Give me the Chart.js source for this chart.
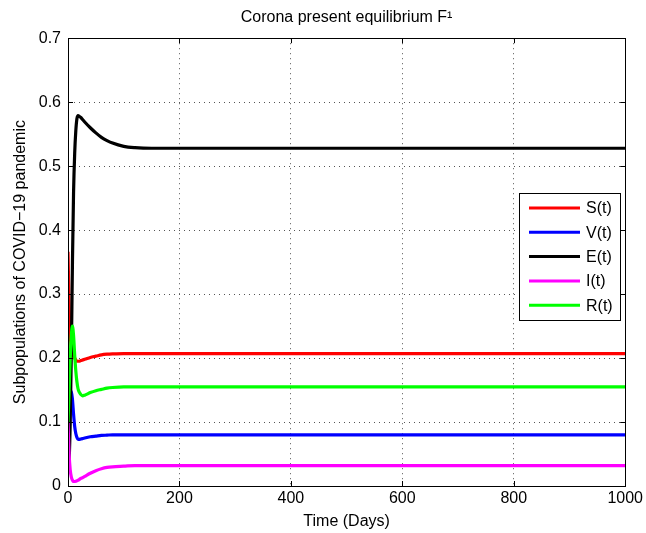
<!DOCTYPE html>
<html>
<head>
<meta charset="utf-8">
<script src="https://cdn.jsdelivr.net/npm/chart.js@4.4.1/dist/chart.umd.min.js"></script>
<style>
  html, body { margin: 0; padding: 0; background: #fff; }
  #wrap { width: 646px; height: 533px; }
</style>
</head>
<body>
<div id="wrap"><canvas id="eqChart" width="646" height="533"></canvas></div>
<script>
// time points (days)
const days = [0, 2, 4, 6, 8, 10, 12, 14, 16, 18, 20, 23, 26, 30, 40, 50, 60, 70, 80, 100, 120, 150, 200, 300, 400, 500, 600, 700, 800, 900, 1000];

const sVals = [0.366, 0.28, 0.235, 0.219, 0.21, 0.204, 0.2, 0.197, 0.195, 0.195, 0.195, 0.196, 0.197, 0.198, 0.201, 0.203, 0.205, 0.206, 0.2065, 0.207, 0.207, 0.207, 0.207, 0.207, 0.207, 0.207, 0.207, 0.207, 0.207, 0.207, 0.207];
const vVals = [0.1, 0.125, 0.142, 0.148, 0.135, 0.112, 0.093, 0.082, 0.076, 0.073, 0.073, 0.0735, 0.074, 0.075, 0.077, 0.078, 0.079, 0.0795, 0.08, 0.08, 0.08, 0.08, 0.08, 0.08, 0.08, 0.08, 0.08, 0.08, 0.08, 0.08, 0.08];
const eVals = [0.02, 0.04, 0.1, 0.21, 0.35, 0.46, 0.52, 0.555, 0.574, 0.579, 0.578, 0.576, 0.573, 0.569, 0.56, 0.552, 0.545, 0.54, 0.536, 0.531, 0.529, 0.528, 0.528, 0.528, 0.528, 0.528, 0.528, 0.528, 0.528, 0.528, 0.528];
const iVals = [0.1, 0.05, 0.025, 0.014, 0.009, 0.007, 0.007, 0.0075, 0.008, 0.009, 0.01, 0.012, 0.013, 0.015, 0.02, 0.024, 0.027, 0.029, 0.03, 0.031, 0.032, 0.032, 0.032, 0.032, 0.032, 0.032, 0.032, 0.032, 0.032, 0.032, 0.032];
const rVals = [0.1, 0.15, 0.2, 0.235, 0.25, 0.235, 0.205, 0.18, 0.163, 0.152, 0.147, 0.143, 0.141, 0.142, 0.146, 0.149, 0.151, 0.153, 0.154, 0.155, 0.155, 0.155, 0.155, 0.155, 0.155, 0.155, 0.155, 0.155, 0.155, 0.155, 0.155];

const seriesNames = ["S(t)", "V(t)", "E(t)", "I(t)", "R(t)"];
const seriesColors = ["#ff0000", "#0000ff", "#000000", "#ff00ff", "#00ff00"];
const seriesVals = [sVals, vVals, eVals, iVals, rVals];

const xTicks = [0, 200, 400, 600, 800, 1000];
const yTicks = [0, 0.1, 0.2, 0.3, 0.4, 0.5, 0.6, 0.7];

const FONT = "'Liberation Sans', Arial, Helvetica, sans-serif";

// build datasets
const datasets = seriesVals.map(function (vals, k) {
  return {
    label: seriesNames[k],
    data: days.map(function (d, j) { return { x: d, y: vals[j] }; }),
    borderColor: seriesColors[k],
    borderWidth: 3.2,
    pointRadius: 0,
    fill: false,
    cubicInterpolationMode: "monotone",
    order: 5 - k
  };
});

// box round the plot + inward ticks, matlab style
const boxPlugin = {
  id: "boxPlugin",
  afterDatasetsDraw(chart) {
    const ctx = chart.ctx;
    const a = chart.chartArea;
    const xs = chart.scales.x;
    const ys = chart.scales.y;
    ctx.save();
    ctx.strokeStyle = "#000";
    ctx.lineWidth = 1;
    ctx.strokeRect(Math.round(a.left) + 0.5, Math.round(a.top) + 0.5,
      Math.round(a.right - a.left), Math.round(a.bottom - a.top));
    ctx.beginPath();
    xTicks.forEach(function (v) {
      const px = Math.round(xs.getPixelForValue(v)) + 0.5;
      ctx.moveTo(px, a.bottom); ctx.lineTo(px, a.bottom - 5);
      ctx.moveTo(px, a.top); ctx.lineTo(px, a.top + 5);
    });
    yTicks.forEach(function (v) {
      const py = Math.round(ys.getPixelForValue(v)) + 0.5;
      ctx.moveTo(a.left, py); ctx.lineTo(a.left + 5, py);
      ctx.moveTo(a.right, py); ctx.lineTo(a.right - 5, py);
    });
    ctx.stroke();

    // legend box
    const lx = 519, ly = 193, lw = 101, lh = 127;
    ctx.fillStyle = "#fff";
    ctx.fillRect(lx, ly, lw, lh);
    ctx.strokeRect(lx + 0.5, ly + 0.5, lw, lh);
    ctx.font = "16px " + FONT;
    ctx.textBaseline = "middle";
    chart.data.datasets.forEach(function (ds, k) {
      const yy = 208 + k * 24.3;
      ctx.strokeStyle = ds.borderColor;
      ctx.lineWidth = 3;
      ctx.beginPath();
      ctx.moveTo(529, yy); ctx.lineTo(580, yy);
      ctx.stroke();
      ctx.fillStyle = "#000";
      ctx.fillText(ds.label, 586, yy + 1);
    });
    ctx.restore();
  }
};

new Chart(document.getElementById("eqChart"), {
  type: "line",
  data: { datasets: datasets },
  options: {
    responsive: false,
    animation: false,
    layout: { padding: { left: 0, right: 17, top: 0, bottom: 0 } },
    plugins: {
      legend: { display: false },
      tooltip: { enabled: false },
      title: {
        display: true,
        fullSize: false,
        text: "Corona present equilibrium F\u00b9",
        color: "#000",
        font: { family: FONT, size: 16, weight: "normal" },
        padding: { top: 8, bottom: 11 }
      }
    },
    scales: {
      x: {
        type: "linear",
        min: 0,
        max: 1000,
        afterBuildTicks(scale) { scale.ticks = xTicks.map(function (v) { return { value: v }; }); },
        afterFit(scale) { scale.height = 47; },
        ticks: {
          color: "#000",
          font: { family: FONT, size: 16 },
          padding: 3,
          maxRotation: 0,
          callback: function (v) { return String(v); }
        },
        grid: { color: "#555", drawTicks: false, lineWidth: 1 },
        border: { display: true, color: "#000", width: 1, dash: [1, 4] },
        title: {
          display: true,
          text: "Time (Days)",
          color: "#000",
          font: { family: FONT, size: 16 },
          padding: { top: 2, bottom: 2 }
        }
      },
      y: {
        type: "linear",
        min: 0,
        max: 0.7,
        afterBuildTicks(scale) { scale.ticks = yTicks.map(function (v) { return { value: v }; }); },
        afterFit(scale) { scale.width = 68; },
        ticks: {
          color: "#000",
          font: { family: FONT, size: 16 },
          padding: 7,
          callback: function (v) { return String(Math.round(v * 10) / 10); }
        },
        grid: { color: "#555", drawTicks: false, lineWidth: 1 },
        border: { display: true, color: "#000", width: 1, dash: [1, 4] },
        title: {
          display: true,
          text: "Subpopulations of COVID\u221219 pandemic",
          color: "#000",
          font: { family: FONT, size: 16 },
          padding: { top: 11, bottom: 0 }
        }
      }
    }
  },
  plugins: [boxPlugin]
});
</script>
</body>
</html>
